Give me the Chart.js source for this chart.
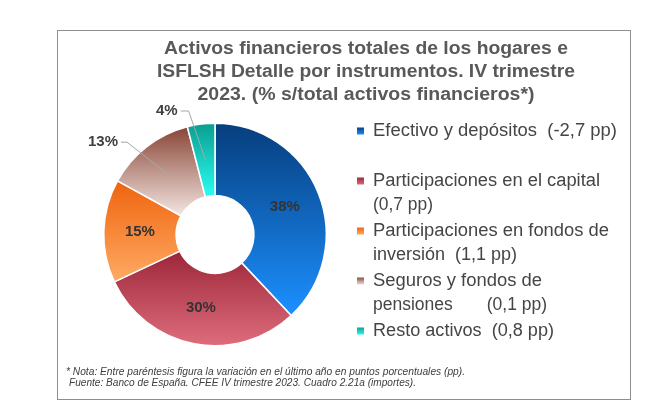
<!DOCTYPE html>
<html><head><meta charset="utf-8">
<script src="https://cdn.jsdelivr.net/npm/chart.js@4.4.1/dist/chart.umd.min.js"></script>
<style>html,body{margin:0;padding:0;background:#fff}#wrap{width:662px;height:414px;position:relative}</style>
</head><body><div id="wrap"><canvas id="c"></canvas></div>
<script>
// ---- data ----
const titleLines = [
  "Activos financieros totales de los hogares e",
  "ISFLSH Detalle por instrumentos. IV trimestre",
  "2023. (% s/total activos financieros*)"
];
const categories = [
  "Efectivo y depósitos",
  "Participaciones en el capital",
  "Participaciones en fondos de inversión",
  "Seguros y fondos de pensiones",
  "Resto activos"
];
const changesPP = ["(-2,7 pp)", "(0,7 pp)", "(1,1 pp)", "(0,1 pp)", "(0,8 pp)"];
const shares = [38, 30, 15, 13, 4];
const legendLines = [
  ["Efectivo y depósitos  (-2,7 pp)"],
  ["Participaciones en el capital", "(0,7 pp)"],
  ["Participaciones en fondos de", "inversión  (1,1 pp)"],
  ["Seguros y fondos de", "pensiones       (0,1 pp)"],
  ["Resto activos  (0,8 pp)"]
];
const footnotes = [
  "* Nota: Entre paréntesis figura la variación en el último año en puntos porcentuales (pp).",
  "Fuente: Banco de España. CFEE IV trimestre 2023. Cuadro 2.21a (importes)."
];

// ---- style ----
const topColors = ['#063e7d', '#9c2639', '#ee640e', '#894536', '#0a9d91'];
const bottomColors = ['#1c90ff', '#de6d7c', '#ffaa64', '#f4e6e2', '#28fff1'];
const FONT = '"Liberation Sans", Arial, sans-serif';
const titleWidths = [404, 418, 337];
const legendWidths = [[244], [227, 60], [236, 144], [169, 174], [181]];
const footWidths = [399, 347];
const footX = [66, 69];
// outside label leader elbows (pixel offsets from slice midpoint); null = inside label
const leader = [null, null, null, {dx: -42, dy: -33, tail: 6}, {dx: -17, dy: -49, tail: 8}];

function sliceGeom(chart, i) {
  const meta = chart.getDatasetMeta(0);
  const ctrl = meta.controller;
  const a = chart.chartArea;
  if (!a || !ctrl || !ctrl.outerRadius) return null;
  const cx = (a.left + a.right) / 2 + (ctrl.offsetX || 0);
  const cy = (a.top + a.bottom) / 2 + (ctrl.offsetY || 0);
  const total = shares.reduce((s, v) => s + v, 0);
  let before = 0;
  for (let k = 0; k < i; k++) before += shares[k];
  const start = -Math.PI / 2 + 2 * Math.PI * before / total;
  const end = start + 2 * Math.PI * shares[i] / total;
  return {cx, cy, start, end, ro: ctrl.outerRadius, ri: ctrl.innerRadius};
}

function sliceGradient(context) {
  const chart = context.chart;
  const i = context.dataIndex;
  const g = sliceGeom(chart, i);
  if (!g) return topColors[i];
  let minY = Infinity, maxY = -Infinity;
  const n = 60;
  for (let k = 0; k <= n; k++) {
    const ang = g.start + (g.end - g.start) * k / n;
    for (const r of [g.ro, g.ri]) {
      const y = g.cy + r * Math.sin(ang);
      if (y < minY) minY = y;
      if (y > maxY) maxY = y;
    }
  }
  const grad = chart.ctx.createLinearGradient(0, minY, 0, maxY);
  grad.addColorStop(0, topColors[i]);
  grad.addColorStop(1, bottomColors[i]);
  return grad;
}

function fitText(ctx, text, x, y, width) {
  const w = ctx.measureText(text).width;
  ctx.save();
  ctx.translate(x, y);
  if (width && w > 0) ctx.scale(width / w, 1);
  ctx.fillText(text, 0, 0);
  ctx.restore();
}

const framePlugin = {
  id: 'frame',
  beforeDraw(chart) {
    const ctx = chart.ctx;
    ctx.save();
    ctx.fillStyle = '#fff';
    ctx.fillRect(0, 0, chart.width, chart.height);
    ctx.strokeStyle = '#8e8e8e';
    ctx.lineWidth = 1;
    ctx.strokeRect(57.5, 30.5, 573, 369);
    ctx.restore();
  },
  afterDraw(chart) {
    const ctx = chart.ctx;
    ctx.save();
    // title
    ctx.fillStyle = '#595959';
    ctx.font = 'bold 18px ' + FONT;
    ctx.textBaseline = 'middle';
    ctx.textAlign = 'center';
    titleLines.forEach((t, k) => fitText(ctx, t, 366, 49.5 + k * 22.7, titleWidths[k]));
    // legend
    ctx.textAlign = 'left';
    ctx.font = '18px ' + FONT;
    legendLines.forEach((lines, i) => {
      const y0 = 131 + i * 50;
      const sq = ctx.createLinearGradient(0, y0 - 4, 0, y0 + 4);
      sq.addColorStop(0, topColors[i]);
      sq.addColorStop(1, bottomColors[i]);
      ctx.fillStyle = sq;
      ctx.fillRect(357, y0 - 3.5, 7, 7);
      ctx.fillStyle = '#454545';
      lines.forEach((t, k) => fitText(ctx, t, 373, y0 + k * 24, legendWidths[i][k]));
    });
    // footnotes
    ctx.font = 'italic 10px ' + FONT;
    ctx.fillStyle = '#404040';
    footnotes.forEach((t, k) => fitText(ctx, t, footX[k], 372 + k * 11, footWidths[k]));
    ctx.restore();
  },
  afterDatasetsDraw(chart) {
    const ctx = chart.ctx;
    const meta = chart.getDatasetMeta(0);
    ctx.save();
    ctx.font = 'bold 15px ' + FONT;
    ctx.textBaseline = 'middle';
    meta.data.forEach((arc, i) => {
      const p = arc.tooltipPosition();
      const txt = shares[i] + '%';
      const L = leader[i];
      if (!L) {
        ctx.fillStyle = '#333333';
        ctx.textAlign = 'center';
        ctx.fillText(txt, p.x, p.y);
      } else {
        const ex = p.x + L.dx, ey = p.y + L.dy;
        ctx.strokeStyle = '#a6a6a6';
        ctx.lineWidth = 1;
        ctx.beginPath();
        ctx.moveTo(p.x, p.y);
        ctx.lineTo(ex, ey);
        ctx.lineTo(ex - L.tail, ey);
        ctx.stroke();
        ctx.fillStyle = '#404040';
        ctx.textAlign = 'right';
        ctx.fillText(txt, ex - L.tail - 3, ey);
      }
    });
    ctx.restore();
  }
};

const canvas = document.getElementById('c');
const chart = new Chart(canvas, {
  type: 'doughnut',
  data: {
    labels: categories.map((c, i) => c + ' ' + changesPP[i]),
    datasets: [{
      data: shares,
      backgroundColor: sliceGradient,
      borderColor: '#ffffff',
      borderWidth: 1.5
    }]
  },
  options: {
    responsive: true,
    maintainAspectRatio: false,
    animation: false,
    cutout: '35%',
    layout: {padding: {left: 103, right: 335, top: 122, bottom: 67}},
    plugins: {legend: {display: false}, title: {display: false}, tooltip: {enabled: false}}
  },
  plugins: [framePlugin]
});
chart.update('none');
</script></body></html>
